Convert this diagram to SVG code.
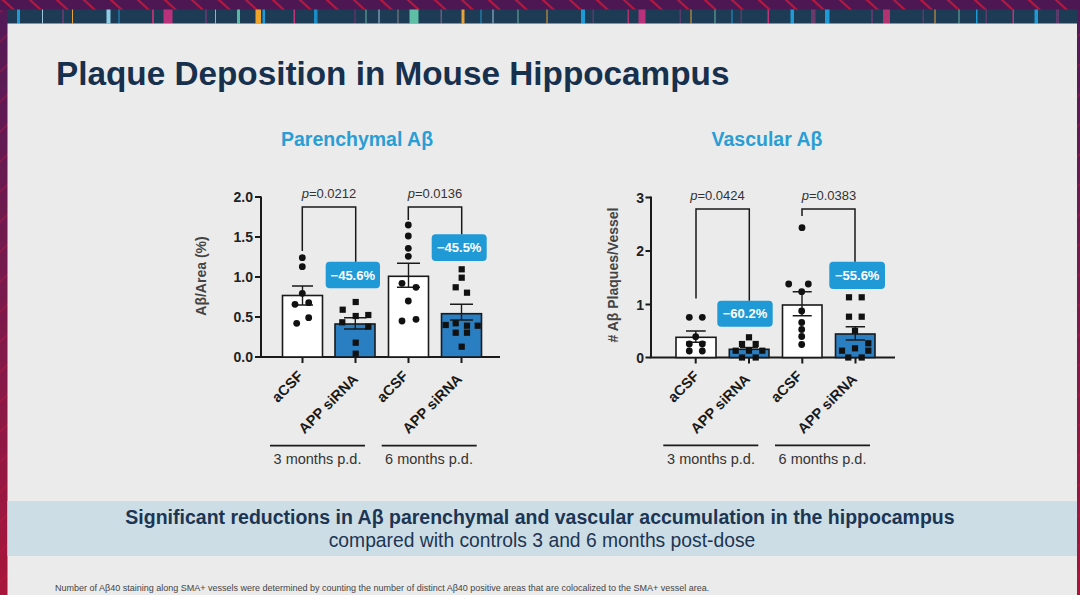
<svg xmlns="http://www.w3.org/2000/svg" xmlns:xlink="http://www.w3.org/1999/xlink" width="1080" height="595" viewBox="0 0 1080 595">
<defs>
<linearGradient id="sideGrad" x1="0" y1="0" x2="0" y2="1">
<stop offset="0" stop-color="#511a58"/>
<stop offset="0.5" stop-color="#7a1a4c"/>
<stop offset="1" stop-color="#a8163a"/>
</linearGradient>
<pattern id="topStripes" width="27" height="10" patternUnits="userSpaceOnUse">
<rect width="27" height="10" fill="#4c1752"/>
<path d="M2,-1 L15,11" stroke="#b3183f" stroke-width="2.2"/>
</pattern>
<pattern id="sideStripes" width="8" height="30" patternUnits="userSpaceOnUse">
<path d="M-2,14 L10,2" stroke="#c21a3c" stroke-width="1.4" stroke-opacity="0.45"/>
</pattern>
<circle id="dot" r="3.4"/>
<rect id="sq" x="-3.1" y="-3.1" width="6.2" height="6.2"/>
<style>
.title{font-family:"Liberation Sans",Arial,sans-serif;font-weight:bold;font-size:33.3px;fill:#17304d}
.ctitle{font-family:"Liberation Sans",Arial,sans-serif;font-weight:bold;font-size:19.5px;fill:#2a9dd4;text-anchor:middle}
.tick{font-family:"Liberation Sans",Arial,sans-serif;font-weight:bold;font-size:14px;fill:#222;text-anchor:end}
.ytitle{font-family:"Liberation Sans",Arial,sans-serif;font-weight:bold;font-size:14px;fill:#444;text-anchor:middle}
.cat{font-family:"Liberation Sans",Arial,sans-serif;font-weight:bold;font-size:14.5px;fill:#1a1a1a;text-anchor:end}
.grp{font-family:"Liberation Sans",Arial,sans-serif;font-size:14.5px;fill:#333;text-anchor:middle}
.pv{font-family:"Liberation Sans",Arial,sans-serif;font-size:13px;fill:#333;text-anchor:middle}
.badge{fill:#1f9ad6}
.btxt{font-family:"Liberation Sans",Arial,sans-serif;font-weight:bold;font-size:13px;fill:#ffffff;text-anchor:middle}
.axis{stroke:#1a1a1a;stroke-width:2;fill:none}
.bw{fill:#ffffff;stroke:#1a1a1a;stroke-width:1.6}
.bb{fill:#2a7fc2;stroke:#1a1a1a;stroke-width:1.6}
.err{stroke:#1a1a1a;stroke-width:1.4;fill:none}
.br{stroke:#1a1a1a;stroke-width:1.5;fill:none}
.pts{fill:#111}
.gl{stroke:#1a1a1a;stroke-width:1.8}
.banner1{font-family:"Liberation Sans",Arial,sans-serif;font-weight:bold;font-size:19.5px;fill:#1c3552;text-anchor:middle}
.banner2{font-family:"Liberation Sans",Arial,sans-serif;font-size:19.3px;fill:#1c3552;text-anchor:middle}
.foot{font-family:"Liberation Sans",Arial,sans-serif;font-size:9px;fill:#444}
</style>
</defs>

<g id="frame">
<rect x="0" y="0" width="1080" height="595" fill="url(#sideGrad)"/>
<rect x="0" y="0" width="1080" height="595" fill="url(#sideStripes)"/>
<rect x="0" y="0" width="1080" height="10" fill="url(#topStripes)"/>
<rect x="7.5" y="9.5" width="1069.5" height="14" fill="#1e3b55"/>
<g id="strip-ticks">
<rect x="17" y="9.5" width="3" height="14" fill="#1e9ad6"/>
<rect x="42" y="9.5" width="1" height="14" fill="#9fc6d8"/>
<rect x="62" y="9.5" width="2" height="14" fill="#5a3a6a"/>
<rect x="72" y="9.5" width="1" height="14" fill="#e8a23a"/>
<rect x="106.5" y="9.5" width="4" height="14" fill="#8fcde6"/>
<rect x="118.5" y="9.5" width="1" height="14" fill="#1e9ad6"/>
<rect x="152" y="9.5" width="2" height="14" fill="#b0326e"/>
<rect x="163.5" y="9.5" width="9" height="14" fill="#b8317a"/>
<rect x="205" y="9.5" width="2" height="14" fill="#5a3a6a"/>
<rect x="215" y="9.5" width="1" height="14" fill="#e8a23a"/>
<rect x="237" y="9.5" width="3" height="14" fill="#58b8a6"/>
<rect x="255.5" y="9.5" width="5.5" height="14" fill="#f0a52a"/>
<rect x="262.5" y="9.5" width="2.5" height="14" fill="#1e9ad6"/>
<rect x="293.5" y="9.5" width="1.5" height="14" fill="#c0357a"/>
<rect x="314" y="9.5" width="3.5" height="14" fill="#1e8cc4"/>
<rect x="354" y="9.5" width="2" height="14" fill="#4d3560"/>
<rect x="365.5" y="9.5" width="1" height="14" fill="#6cb6a6"/>
<rect x="378.5" y="9.5" width="1" height="14" fill="#9fc6d8"/>
<rect x="397.5" y="9.5" width="1" height="14" fill="#8a8a8a"/>
<rect x="409.5" y="9.5" width="9" height="14" fill="#5fbfa6"/>
<rect x="440.5" y="9.5" width="1.5" height="14" fill="#6a5a80"/>
<rect x="461.5" y="9.5" width="3" height="14" fill="#e8a23a"/>
<rect x="480.5" y="9.5" width="1" height="14" fill="#1e9ad6"/>
<rect x="492.5" y="9.5" width="1" height="14" fill="#9fc6d8"/>
<rect x="517.5" y="9.5" width="1" height="14" fill="#6cb6a6"/>
<rect x="546.5" y="9.5" width="1" height="14" fill="#e8a23a"/>
<rect x="581" y="9.5" width="4" height="14" fill="#1e9ad6"/>
<rect x="592.5" y="9.5" width="1.5" height="14" fill="#5a3a6a"/>
<rect x="627.5" y="9.5" width="1.5" height="14" fill="#b0326e"/>
<rect x="638.5" y="9.5" width="7" height="14" fill="#b8317a"/>
<rect x="679.5" y="9.5" width="1.5" height="14" fill="#5a3a6a"/>
<rect x="690.5" y="9.5" width="1" height="14" fill="#e8a23a"/>
<rect x="714.5" y="9.5" width="1" height="14" fill="#6cb6a6"/>
<rect x="731.5" y="9.5" width="1" height="14" fill="#1e9ad6"/>
<rect x="740.5" y="9.5" width="1.5" height="14" fill="#5a3a6a"/>
<rect x="767.5" y="9.5" width="1.5" height="14" fill="#c0357a"/>
<rect x="790.5" y="9.5" width="3.5" height="14" fill="#1e9ad6"/>
<rect x="811" y="9.5" width="4.5" height="14" fill="#6a3a6a"/>
<rect x="825" y="9.5" width="4.5" height="14" fill="#1e9ad6"/>
<rect x="871" y="9.5" width="2" height="14" fill="#5a3a6a"/>
<rect x="883" y="9.5" width="7" height="14" fill="#b0326e"/>
<rect x="922.5" y="9.5" width="1.5" height="14" fill="#5a3a6a"/>
<rect x="934.5" y="9.5" width="1" height="14" fill="#e8a23a"/>
<rect x="958.5" y="9.5" width="1" height="14" fill="#6cb6a6"/>
<rect x="976" y="9.5" width="1.5" height="14" fill="#1e9ad6"/>
<rect x="985.5" y="9.5" width="1.5" height="14" fill="#5a3a6a"/>
<rect x="1012.5" y="9.5" width="1.5" height="14" fill="#c0357a"/>
<rect x="1034.5" y="9.5" width="3.5" height="14" fill="#1e9ad6"/>
<rect x="1056" y="9.5" width="3" height="14" fill="#5a3a6a"/>
</g>
<rect x="7.5" y="23.5" width="1069.5" height="571.5" fill="#ebebeb"/>
</g>

<g id="header">
<text class="title" x="56" y="85">Plaque Deposition in Mouse Hippocampus</text>
</g>

<g id="chart-parenchymal">
<text class="ctitle" x="357" y="146">Parenchymal Aβ</text>
<text class="ytitle" transform="translate(206,276) rotate(-90)">Aβ/Area (%)</text>
<g id="p-axes">
<path class="axis" d="M261,196.5 V357 H500"/>
<path class="axis" d="M255,197 H261 M255,237 H261 M255,277 H261 M255,317 H261 M255,357 H261"/>
<path class="axis" d="M302.5,357 V363 M355.5,357 V363 M408.5,357 V363 M461.5,357 V363"/>
<text class="tick" x="253" y="202">2.0</text>
<text class="tick" x="253" y="242">1.5</text>
<text class="tick" x="253" y="282">1.0</text>
<text class="tick" x="253" y="322">0.5</text>
<text class="tick" x="253" y="362">0.0</text>
</g>
<g id="p-bar-acsf-3m">
<rect class="bw" x="282.5" y="295.5" width="40" height="61.5"/>
<path class="err" d="M302.5,286 V305 M292,286 H313 M292,305 H313"/>
<g class="pts">
<use xlink:href="#dot" x="302.3" y="257.7"/>
<use xlink:href="#dot" x="302.3" y="266.7"/>
<use xlink:href="#dot" x="302.3" y="293.3"/>
<use xlink:href="#dot" x="295" y="304.3"/>
<use xlink:href="#dot" x="308.7" y="302.7"/>
<use xlink:href="#dot" x="296.7" y="323.3"/>
<use xlink:href="#dot" x="308.7" y="317.7"/>
</g>
</g>
<g id="p-bar-sirna-3m">
<rect class="bb" x="335" y="324" width="40" height="33"/>
<path class="err" d="M355.3,317.7 V329 M344,317.7 H366.5 M344,329 H366.5"/>
<g class="pts">
<use xlink:href="#sq" x="355.7" y="302"/>
<use xlink:href="#sq" x="342.7" y="309.7"/>
<use xlink:href="#sq" x="342.3" y="322.3"/>
<use xlink:href="#sq" x="355.7" y="316"/>
<use xlink:href="#sq" x="368.3" y="315"/>
<use xlink:href="#sq" x="368.3" y="326.7"/>
<use xlink:href="#sq" x="355.7" y="342.7"/>
<use xlink:href="#sq" x="355.7" y="353.7"/>
</g>
</g>
<g id="p-bar-acsf-6m">
<rect class="bw" x="388.5" y="276.3" width="40" height="80.7"/>
<path class="err" d="M408.5,263.3 V287.3 M397,263.3 H420 M397,287.3 H420"/>
<g class="pts">
<use xlink:href="#dot" x="408.3" y="225"/>
<use xlink:href="#dot" x="408.3" y="236"/>
<use xlink:href="#dot" x="408.3" y="248.3"/>
<use xlink:href="#dot" x="408.3" y="256.3"/>
<use xlink:href="#dot" x="402" y="283.3"/>
<use xlink:href="#dot" x="416" y="287.3"/>
<use xlink:href="#dot" x="408.3" y="301"/>
<use xlink:href="#dot" x="402" y="321"/>
<use xlink:href="#dot" x="416" y="319.3"/>
</g>
</g>
<g id="p-bar-sirna-6m">
<rect class="bb" x="441.5" y="313.7" width="40" height="43.3"/>
<path class="err" d="M461.5,304.3 V320 M450,304.3 H473 M450,320 H473"/>
<g class="pts">
<use xlink:href="#sq" x="461.7" y="269.3"/>
<use xlink:href="#sq" x="461.7" y="277.7"/>
<use xlink:href="#sq" x="455.7" y="287.3"/>
<use xlink:href="#sq" x="467" y="292.7"/>
<use xlink:href="#sq" x="445.7" y="325"/>
<use xlink:href="#sq" x="455.7" y="323.3"/>
<use xlink:href="#sq" x="467" y="325.7"/>
<use xlink:href="#sq" x="477.7" y="325.7"/>
<use xlink:href="#sq" x="455.7" y="332.7"/>
<use xlink:href="#sq" x="467" y="332.7"/>
<use xlink:href="#sq" x="461.7" y="346.7"/>
</g>
</g>
<g id="p-badges">
<rect class="badge" x="325.7" y="261.7" width="54.3" height="26.6" rx="4"/>
<text class="btxt" x="352.8" y="279.5">−45.6%</text>
<rect class="badge" x="431.7" y="234.3" width="55" height="26.7" rx="4"/>
<text class="btxt" x="459.2" y="252">−45.5%</text>
</g>
<g id="p-pvalues">
<text class="pv" x="329" y="197.5"><tspan font-style="italic">p</tspan>=0.0212</text>
<text class="pv" x="435" y="197.5"><tspan font-style="italic">p</tspan>=0.0136</text>
</g>
<g id="p-categories">
<text class="cat" transform="translate(304,377) rotate(-45)">aCSF</text>
<text class="cat" transform="translate(359,380) rotate(-45)">APP siRNA</text>
<text class="cat" transform="translate(409,377) rotate(-45)">aCSF</text>
<text class="cat" transform="translate(463,380) rotate(-45)">APP siRNA</text>
<line class="gl" x1="270" y1="445.7" x2="365" y2="445.7"/>
<line class="gl" x1="381.7" y1="445.7" x2="476.7" y2="445.7"/>
<text class="grp" x="317.5" y="464">3 months p.d.</text>
<text class="grp" x="429" y="464">6 months p.d.</text>
</g>
</g>

<g id="chart-vascular">
<text class="ctitle" x="767" y="146">Vascular Aβ</text>
<text class="ytitle" transform="translate(618,275) rotate(-90)"># Aβ Plaques/Vessel</text>
<g id="v-axes">
<path class="axis" d="M651,196.5 V357.5 H895"/>
<path class="axis" d="M645.5,197.5 H651 M645.5,251 H651 M645.5,304.5 H651 M645.5,357.5 H651"/>
<path class="axis" d="M695.7,357.5 V363.5 M749,357.5 V363.5 M802.3,357.5 V363.5 M855.5,357.5 V363.5"/>
<text class="tick" x="644" y="202.5">3</text>
<text class="tick" x="644" y="256">2</text>
<text class="tick" x="644" y="309.5">1</text>
<text class="tick" x="644" y="362.5">0</text>
</g>
<g id="v-bar-acsf-3m">
<rect class="bw" x="676" y="337.3" width="40" height="20.2"/>
<path class="err" d="M695.8,331 V342.3 M686,331 H705.7 M686,342.3 H705.7"/>
<g class="pts">
<use xlink:href="#dot" x="689.3" y="317.3"/>
<use xlink:href="#dot" x="702.3" y="317.3"/>
<use xlink:href="#dot" x="695.7" y="336.7"/>
<use xlink:href="#dot" x="689.3" y="344"/>
<use xlink:href="#dot" x="702.3" y="344"/>
<use xlink:href="#dot" x="689.3" y="351"/>
<use xlink:href="#dot" x="702.3" y="351"/>
</g>
</g>
<g id="v-bar-sirna-3m">
<rect class="bb" x="729.3" y="349.3" width="39.7" height="8.2"/>
<path class="err" d="M740,347.5 H758"/>
<g class="pts">
<use xlink:href="#sq" x="749" y="337.3"/>
<use xlink:href="#sq" x="742" y="344"/>
<use xlink:href="#sq" x="755.7" y="344"/>
<use xlink:href="#sq" x="735.7" y="350.7"/>
<use xlink:href="#sq" x="749" y="350.7"/>
<use xlink:href="#sq" x="762.3" y="350.7"/>
<use xlink:href="#sq" x="742" y="357.5"/>
<use xlink:href="#sq" x="755.7" y="357.5"/>
</g>
</g>
<g id="v-bar-acsf-6m">
<rect class="bw" x="782.5" y="305" width="39.5" height="52.5"/>
<path class="err" d="M802,291.7 V315.7 M792.7,291.7 H811.7 M792.7,315.7 H811.7"/>
<g class="pts">
<use xlink:href="#dot" x="802" y="227.7"/>
<use xlink:href="#dot" x="788.7" y="284"/>
<use xlink:href="#dot" x="808.3" y="284"/>
<use xlink:href="#dot" x="801.7" y="291.7"/>
<use xlink:href="#dot" x="801.7" y="311"/>
<use xlink:href="#dot" x="801.7" y="322.5"/>
<use xlink:href="#dot" x="801.7" y="329.5"/>
<use xlink:href="#dot" x="801.7" y="336.5"/>
<use xlink:href="#dot" x="801.7" y="344.5"/>
</g>
</g>
<g id="v-bar-sirna-6m">
<rect class="bb" x="835.5" y="334" width="39.5" height="23.5"/>
<path class="err" d="M855.3,326.7 V340 M845.7,326.7 H865 M845.7,340 H865"/>
<g class="pts">
<use xlink:href="#sq" x="849" y="297.3"/>
<use xlink:href="#sq" x="861.7" y="297.3"/>
<use xlink:href="#sq" x="849" y="316.7"/>
<use xlink:href="#sq" x="861.7" y="316.7"/>
<use xlink:href="#sq" x="855" y="330.7"/>
<use xlink:href="#sq" x="842" y="350.7"/>
<use xlink:href="#sq" x="855" y="348.3"/>
<use xlink:href="#sq" x="868.3" y="350.7"/>
<use xlink:href="#sq" x="868.3" y="343.3"/>
<use xlink:href="#sq" x="848.3" y="357.5"/>
<use xlink:href="#sq" x="861.7" y="357.5"/>
</g>
</g>
<g id="v-badges">
<rect class="badge" x="717.3" y="300.7" width="55.4" height="26" rx="4"/>
<text class="btxt" x="745" y="318.3">−60.2%</text>
<rect class="badge" x="829.3" y="261.7" width="55.7" height="27.3" rx="4"/>
<text class="btxt" x="857.2" y="280">−55.6%</text>
</g>
<g id="v-pvalues">
<text class="pv" x="717.5" y="200"><tspan font-style="italic">p</tspan>=0.0424</text>
<text class="pv" x="829" y="200"><tspan font-style="italic">p</tspan>=0.0383</text>
</g>
<g id="v-categories">
<text class="cat" transform="translate(700,377) rotate(-45)">aCSF</text>
<text class="cat" transform="translate(751,380) rotate(-45)">APP siRNA</text>
<text class="cat" transform="translate(803,377) rotate(-45)">aCSF</text>
<text class="cat" transform="translate(858,380) rotate(-45)">APP siRNA</text>
<line class="gl" x1="663.3" y1="445.3" x2="758.3" y2="445.3"/>
<line class="gl" x1="775" y1="445.3" x2="870" y2="445.3"/>
<text class="grp" x="711" y="464">3 months p.d.</text>
<text class="grp" x="822.5" y="464">6 months p.d.</text>
</g>
</g>

<g id="connectors">
<path class="br" d="M302.3,251 V207 H355.7 V261.7"/>
<path class="br" d="M408.3,220 V207 H461.7 V234.3"/>
<path class="br" d="M696,298.5 V209 H749.3 V300.7"/>
<path class="br" d="M802,216 V209 H855 V261.7"/>
</g>

<g id="banner">
<rect x="7.5" y="501" width="1069.5" height="55" fill="#ccdde6"/>
<text class="banner1" x="540" y="524">Significant reductions in Aβ parenchymal and vascular accumulation in the hippocampus</text>
<text class="banner2" x="542" y="547">compared with controls 3 and 6 months post-dose</text>
</g>

<g id="footnote">
<text class="foot" x="55" y="591">Number of Aβ40 staining along SMA+ vessels were determined by counting the number of distinct Aβ40 positive areas that are colocalized to the SMA+ vessel area.</text>
</g>
</svg>
